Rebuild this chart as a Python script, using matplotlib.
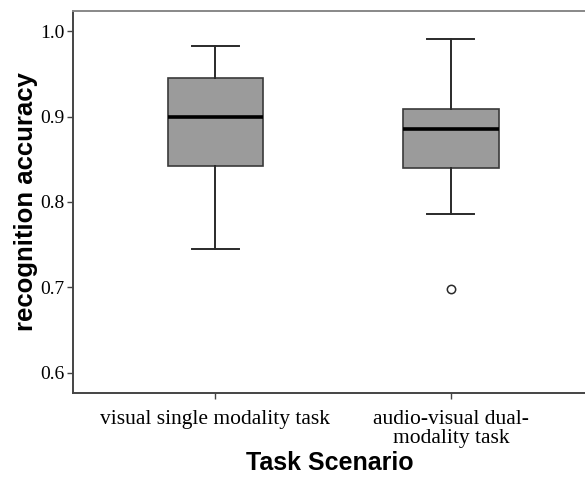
import matplotlib
matplotlib.use("Agg")
import matplotlib.pyplot as plt

categories = ["visual single modality task", "audio-visual dual-\nmodality task"]
whislo = [0.745, 0.786]
q1 = [0.842, 0.840]
med = [0.900, 0.885]
q3 = [0.945, 0.909]
whishi = [0.982, 0.991]
fliers = [[], [0.698]]

stats = []
for i in range(len(categories)):
    stats.append(dict(whislo=whislo[i], q1=q1[i], med=med[i], q3=q3[i],
                      whishi=whishi[i], fliers=fliers[i], label=categories[i]))

fig = plt.figure(figsize=(5.85, 4.79), dpi=100)
ax = fig.add_axes([73 / 585, 86 / 479, 1 - 73 / 585 + 0.002, 382 / 479])

ax.bxp(stats, positions=[1, 2], widths=0.404, patch_artist=True,
       boxprops=dict(facecolor="#9b9b9b", edgecolor="#3a3a3a", linewidth=1.2),
       medianprops=dict(color="black", linewidth=2.6),
       whiskerprops=dict(color="#2a2a2a", linewidth=1.4),
       capprops=dict(color="#2a2a2a", linewidth=1.4),
       capwidths=0.2,
       flierprops=dict(marker="o", markerfacecolor="white", markeredgecolor="#2a2a2a",
                       markersize=6, markeredgewidth=1.1))

ax.set_xlim(0.396, 2.574)
ax.set_ylim(0.5766, 1.0234)
ax.set_yticks([0.6, 0.7, 0.8, 0.9, 1.0])
ax.set_yticklabels(["0.6", "0.7", "0.8", "0.9", "1.0"], family="Liberation Serif", fontsize=14)
ax.set_xticks([1, 2])
ax.set_xticklabels(categories, family="Liberation Serif", fontsize=15.5, linespacing=1.05)
ax.tick_params(axis="both", color="#444444", length=4, width=1.0)
ax.tick_params(axis="x", pad=8)
ax.tick_params(axis="y", pad=2)

for s in ["left", "bottom"]:
    ax.spines[s].set_color("#444444")
    ax.spines[s].set_linewidth(1.4)
ax.spines["top"].set_color("#888888")
ax.spines["top"].set_linewidth(1.4)
ax.spines["right"].set_visible(False)

ax.set_ylabel("recognition accuracy", family="Liberation Sans", fontweight="bold", fontsize=18.5, labelpad=2)
ax.set_xlabel("Task Scenario", family="Liberation Sans", fontweight="bold", fontsize=18, labelpad=2)

fig.savefig("out.png", dpi=100)
